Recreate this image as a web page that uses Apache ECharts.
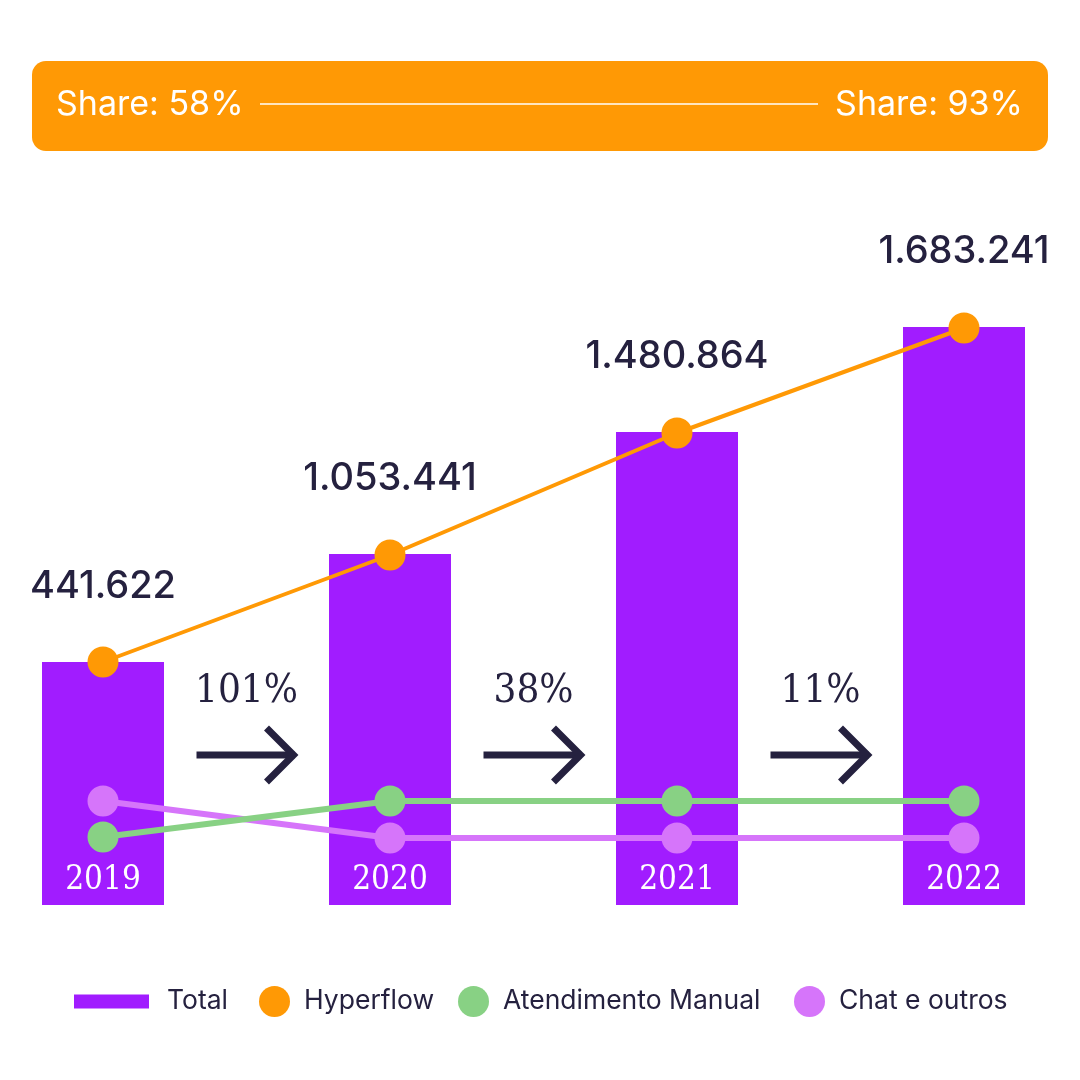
<!DOCTYPE html>
<html><head><meta charset="utf-8">
<script src="https://cdn.jsdelivr.net/npm/echarts@6/dist/echarts.min.js"></script>
<style>html,body{margin:0;padding:0;background:#fff}#c{width:1080px;height:1080px}</style>
</head><body><div id="c"></div>
<script>
// Categories
const years = ['2019', '2020', '2021', '2022'];
// Total labels (as printed) and drawn heights on the (hidden) index scale 0-800
const totalLabels = ['441.622', '1.053.441', '1.480.864', '1.683.241'];
const totalIndex = [243, 351, 473, 578];
const hyperflowIndex = [243, 350, 472, 577];
const manualIndex = [68, 104, 104, 104];
const chatIndex = [104, 67, 67, 67];
// Growth between years
const growthLabels = ['101%', '38%', '11%'];
// Share banner
const shareStart = 'Share: 58%';
const shareEnd = 'Share: 93%';
const seriesNames = ['Total', 'Hyperflow', 'Atendimento Manual', 'Chat e outros'];

const C_BAR = '#A11CFF', C_ORANGE = '#FF9905', C_GREEN = '#88D184', C_PURPLE = '#D675FA', C_TEXT = '#25213F';
const SERIF = '"DejaVu Serif Condensed", "DejaVu Serif", serif';

const chart = echarts.init(document.getElementById('c'), null, {renderer: 'canvas'});

const legendBase = {
  padding: 0, orient: 'horizontal', selectedMode: false,
  textStyle: {fontFamily: 'Inter', fontSize: 26.5, color: C_TEXT}
};

chart.setOption({
  backgroundColor: '#ffffff',
  animation: false,
  grid: {left: 103, right: 116, top: 105, bottom: 175},
  xAxis: {
    type: 'category', data: years, boundaryGap: false, z: 10,
    axisLine: {show: false}, axisTick: {show: false},
    axisLabel: {color: '#ffffff', fontFamily: SERIF, fontSize: 33, margin: -25, verticalAlign: 'middle'}
  },
  yAxis: {type: 'value', min: 0, max: 800, show: false, splitLine: {show: false}},
  legend: [
    Object.assign({}, legendBase, {data: [{name: seriesNames[0], icon: 'rect'}], left: 74, top: 988, itemWidth: 75, itemHeight: 14,
      textStyle: Object.assign({}, legendBase.textStyle, {padding: [0, 0, 0, 13]})}),
    Object.assign({}, legendBase, {data: [{name: seriesNames[1], icon: 'circle'}], left: 259, top: 986, itemWidth: 31, itemHeight: 31,
      textStyle: Object.assign({}, legendBase.textStyle, {padding: [0, 0, 0, 9]})}),
    Object.assign({}, legendBase, {data: [{name: seriesNames[2], icon: 'circle'}], left: 458, top: 986, itemWidth: 31, itemHeight: 31,
      textStyle: Object.assign({}, legendBase.textStyle, {padding: [0, 0, 0, 9]})}),
    Object.assign({}, legendBase, {data: [{name: seriesNames[3], icon: 'circle'}], left: 794, top: 986, itemWidth: 31, itemHeight: 31,
      textStyle: Object.assign({}, legendBase.textStyle, {padding: [0, 0, 0, 9]})})
  ],
  series: [
    {
      name: seriesNames[0], type: 'bar', data: totalIndex, barWidth: 122, clip: false,
      itemStyle: {color: C_BAR},
      label: {
        show: true, position: 'top', distance: 56,
        formatter: p => totalLabels[p.dataIndex],
        fontFamily: 'Inter', fontSize: 38, fontWeight: 500, color: C_TEXT
      },
      z: 2
    },
    {
      name: seriesNames[1], type: 'line', data: hyperflowIndex, clip: false,
      symbol: 'circle', symbolSize: 31,
      lineStyle: {color: C_ORANGE, width: 4}, itemStyle: {color: C_ORANGE}, z: 5
    },
    {
      name: seriesNames[3], type: 'line', data: chatIndex, clip: false,
      symbol: 'circle', symbolSize: 31,
      lineStyle: {color: C_PURPLE, width: 6}, itemStyle: {color: C_PURPLE}, z: 3
    },
    {
      name: seriesNames[2], type: 'line', data: manualIndex, clip: false,
      symbol: 'circle', symbolSize: 31,
      lineStyle: {color: C_GREEN, width: 6}, itemStyle: {color: C_GREEN}, z: 4
    }
  ]
});

// Banner and growth arrows
const g = [
  {type: 'rect', shape: {x: 32, y: 61, width: 1016, height: 90, r: 14}, style: {fill: C_ORANGE}, z: 1},
  {type: 'text', style: {text: shareStart, x: 56, y: 105, align: 'left', verticalAlign: 'middle', font: '34px Inter', fill: '#ffffff'}, z: 2},
  {type: 'text', style: {text: shareEnd, x: 1023, y: 105, align: 'right', verticalAlign: 'middle', font: '34px Inter', fill: '#ffffff'}, z: 2},
  {type: 'line', shape: {x1: 260, y1: 104, x2: 818, y2: 104}, style: {stroke: '#ffffff', lineWidth: 1.5}, z: 2}
];
growthLabels.forEach((txt, i) => {
  const xa = chart.convertToPixel({xAxisIndex: 0}, i);
  const xb = chart.convertToPixel({xAxisIndex: 0}, i + 1);
  const cx = (xa + xb) / 2;
  g.push({type: 'text', style: {text: txt, x: cx, y: 692, align: 'center', verticalAlign: 'middle', font: '40px ' + SERIF, fill: C_TEXT}, z: 2});
  g.push({type: 'line', shape: {x1: cx - 50, y1: 755, x2: cx + 48, y2: 755}, style: {stroke: C_TEXT, lineWidth: 7}, z: 2});
  g.push({type: 'polyline', shape: {points: [[cx + 20, 728], [cx + 47, 755], [cx + 20, 782]]}, style: {stroke: C_TEXT, lineWidth: 7, fill: null, lineJoin: 'miter'}, z: 2});
});
chart.setOption({graphic: g});
</script>
</body></html>
